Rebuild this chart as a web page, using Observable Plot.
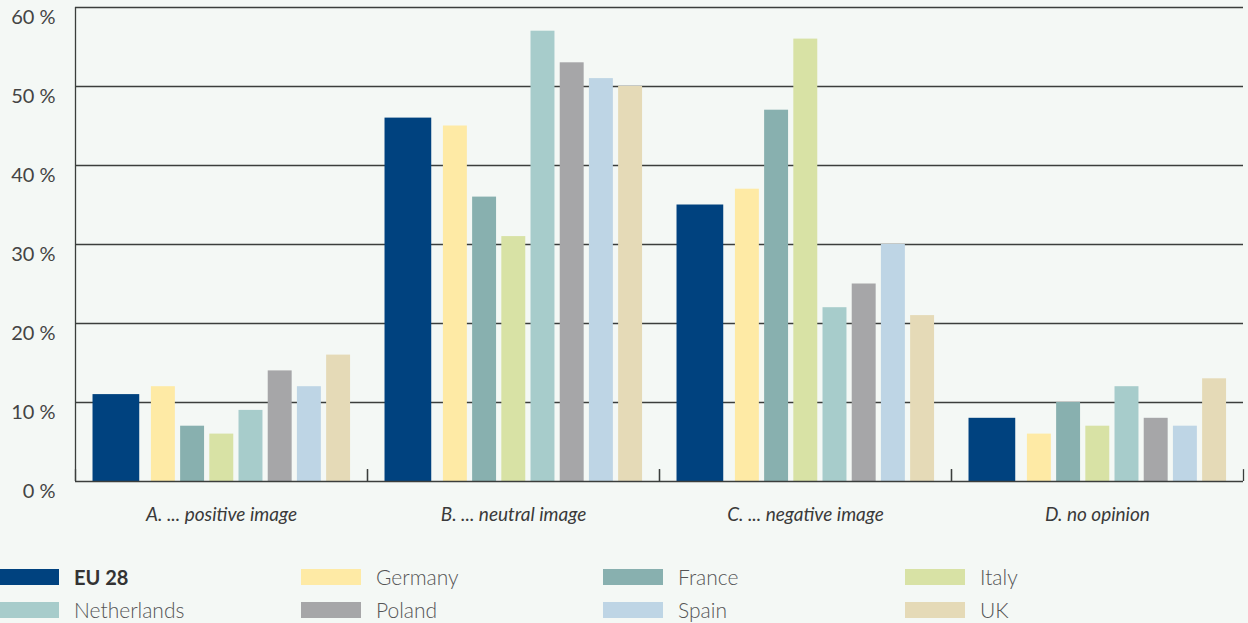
<!DOCTYPE html>
<html>
<head>
<meta charset="utf-8">
<script src="https://cdn.jsdelivr.net/npm/d3@7"></script>
<script src="https://cdn.jsdelivr.net/npm/@observablehq/plot@0.6"></script>
<style>
  html, body { margin: 0; padding: 0; background: #f4f8f5; }
  body { width: 1248px; height: 623px; overflow: hidden; font-family: Lato, "Noto Sans", sans-serif; }
  #chart svg g[aria-label="fx-axis tick label"] text { font-style: italic; }
  .legend { display: grid; grid-template-columns: repeat(4, 302px); margin-left: -1px; padding-top: 15px; }
  .legend .item { display: flex; align-items: center; height: 33px; }
  .legend .swatch { width: 60px; height: 16px; flex: none; }
  .legend .label { margin-left: 15px; font-size: 21px; font-weight: 300; color: #555; }
  .legend .label.bold { font-weight: 700; color: #333; font-size: 20px; }
</style>
</head>
<body>
<div id="chart"></div>
<div class="legend" id="legend"></div>
<script>
// Answer groups along the x axis
const categories = ["A. ... positive image", "B. ... neutral image", "C. ... negative image", "D. no opinion"];

// Countries / aggregate, in drawing order
const series = ["EU 28", "Germany", "France", "Italy", "Netherlands", "Poland", "Spain", "UK"];
const colors = ["#00427f", "#feeaa5", "#88b0af", "#d8e2a5", "#a7cccb", "#a6a6a8", "#bed5e5", "#e5dab7"];

// Share of respondents (%) per answer group
const eu28        = [11, 46, 35, 8];
const germany     = [12, 45, 37, 6];
const france      = [7, 36, 47, 10];
const italy       = [6, 31, 56, 7];
const netherlands = [9, 57, 22, 12];
const poland      = [14, 53, 25, 8];
const spain       = [12, 51, 30, 7];
const uk          = [16, 50, 21, 13];

const yTicks = [0, 10, 20, 30, 40, 50, 60];

const seriesValues = [eu28, germany, france, italy, netherlands, poland, spain, uk];

const rows = series.flatMap((s, i) =>
  categories.map((c, j) => ({category: c, series: s, value: seriesValues[i][j], slot: i}))
);

// Slot layout within a group: the EU 28 bar is double width, the others follow it
const slotStart = (d) => (d.slot === 0 ? 0 : d.slot + 1);
const slotEnd = (d) => (d.slot === 0 ? 1.6 : d.slot + 1.82);
const groupEdges = [-0.6, 9.4];

const boundaries = categories.flatMap((c) => groupEdges.map((e) => ({category: c, edge: e})));

const lineColor = "#3b3e3c";

const chart = Plot.plot({
  width: 1248,
  height: 545,
  marginLeft: 74,
  marginRight: 5,
  marginTop: 7,
  marginBottom: 64,
  style: {background: "transparent", fontFamily: "Lato, 'Noto Sans', sans-serif", overflow: "visible"},
  fx: {domain: categories, padding: 0, label: null},
  x: {domain: groupEdges, axis: null},
  y: {domain: [0, 60], axis: null},
  color: {domain: series, range: colors},
  marks: [
    Plot.ruleY(yTicks.filter((t) => t > 0), {stroke: lineColor, strokeWidth: 1.3}),
    Plot.rectY(rows, {fx: "category", x1: slotStart, x2: slotEnd, y1: 0, y2: "value", fill: "series"}),
    Plot.ruleY([0], {stroke: lineColor, strokeWidth: 1.3}),
    Plot.ruleX(boundaries, {fx: "category", x: "edge", y1: 0, y2: 1.5, stroke: lineColor, strokeWidth: 1.3}),
    Plot.ruleX([categories[0]], {fx: (d) => d, x: () => groupEdges[0], y1: 0, y2: 60, stroke: lineColor, strokeWidth: 1.3}),
    Plot.axisY({
      ticks: yTicks,
      tickSize: 0,
      tickPadding: 20,
      tickFormat: (d) => `${d} %`,
      dy: 10,
      fontSize: 20,
      fill: "#444",
      label: null
    }),
    Plot.axisFx({
      anchor: "bottom",
      tickSize: 0,
      tickPadding: 26,
      fontSize: 19,
      fill: "#3a3a3a",
      label: null
    })
  ]
});

document.getElementById("chart").append(chart);

// Legend below the chart, four columns
const legend = d3.select("#legend");
series.forEach((s, i) => {
  const item = legend.append("div").attr("class", "item");
  item.append("div").attr("class", "swatch").style("background", colors[i]);
  item.append("div").attr("class", i === 0 ? "label bold" : "label").text(s);
});
</script>
</body>
</html>
